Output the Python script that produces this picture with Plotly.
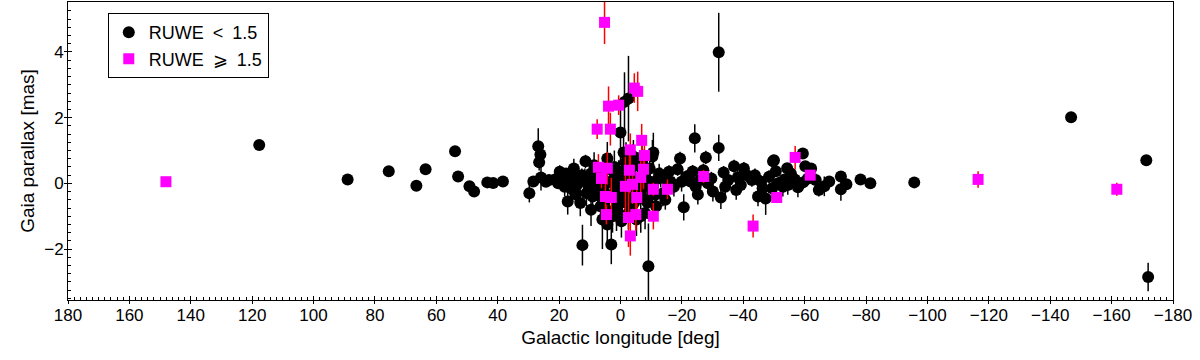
import plotly.graph_objects as go

# ---------------------------------------------------------------------------
# Data
# ---------------------------------------------------------------------------

# RUWE < 1.5 : galactic longitude [deg], parallax [mas], parallax error [mas]
good_lon = [
    117.7, 88.9, 75.5, 66.5, 63.5, 53.9, 52.9, 49.2, 47.7, 43.4, 41.5, 38.3,
    29.7, 28.4, 26.8, 26.1, 26.5, 25.9, 24.3, 23.3, 21.3, 20.3, 18.7, 17.7,
    16.7, 15.7, 14.7, 13.7, 12.6, 11.4, 12.4, 10.6, 9.6, 9.1, 8.1, 7.6,
    6.5, 5.9, 5.5, 5.0, 4.3, 4.3, 3.3, 3.0, 2.6, 2.5, 1.5, 0.9, 0.4, 0.0,
    0.0, -1.3, -2.6, -1.0, -1.6, -2.1, -2.6, -3.1, -3.6, -4.2, -4.6, -5.2,
    -5.7, -6.6, -6.7, -7.7, -8.2, -8.8, -9.1, -9.7, -10.4, -10.7, -11.3,
    -12.3, -13.1, -13.8, -15.3, -16.3, -18.6, -19.4, -20.6, -21.4, -22.8,
    -23.5, -24.2, -25.2, -26.0, -27.8, -28.5, -29.6, -32.0, -32.7, -33.6,
    -35.1, -37.0, -38.2, -39.2, -41.2, -42.8, -44.8, -45.8, -47.3, -48.4,
    -49.7, -51.4, -52.9, -55.5, -62.1, -63.6, -64.6,
    16.2, 14.2, 11.6, 10.1, 7.1, 4.5, 2.0, 1.3, -0.6, -1.1, -3.1, -4.1, -6.2,
    -7.2, -8.7,
    19.8, 18.2, 17.2, 15.2, 13.1, 11.1, 9.6, 8.6, 7.4, 6.3, 5.3, 3.7, 2.3,
    0.6, -0.3, -1.8, -2.8, -4.4, -5.5, -7.0, -8.0, -9.5, -11.6, -12.6, -14.6,
    -15.8, -17.4, -19.9, -24.5, -27.0, -30.1, -34.1, -37.7, -40.2, -43.8,
    -46.3, -49.4, -54.5, -61.1,
    -32.0, -146.8, -171.3, -171.9, -95.7, -81.4, -78.2, -73.6, -71.8, -71.8,
    -68.0, -66.4, -59.4, -60.2, -54.3, -50.0, -50.6, -53.4, -56.8, -57.8,
    -59.5,
]
good_plx = [
    1.17, 0.12, 0.37, -0.07, 0.43, 0.98, 0.21, -0.09, -0.25, 0.03, 0.01, 0.06,
    -0.30, 0.06, 1.13, 0.88, 0.64, 0.18, 0.05, 0.10, 0.12, 0.00, 0.27, 0.30,
    0.05, 0.20, -0.33, 0.10, 0.25, 0.67, -1.88, -0.05, 0.30, -0.40, 0.10, -0.10,
    -0.70, -1.10, 0.45, -0.30, 0.76, -1.25, 0.43, -1.86, -1.00, 0.10, -0.20,
    -0.58, 0.30, 1.55, -0.27, 2.48, 2.58, 0.94, 0.10, -0.60, -0.90, 0.40,
    -0.30, 0.82, 0.15, -1.10, 0.55, -1.00, -0.20, 0.25, -0.50, -0.58, -2.52,
    0.05, 0.82, 0.94, -0.35, 0.15, 0.18, -0.30, 0.10, 0.05, 0.43, 0.76, -0.73,
    0.20, 0.06, 0.36, 1.37, -0.34, 0.10, 0.79, 0.00, 0.15, 1.08, -0.43, 0.33,
    0.10, 0.52, 0.18, -0.05, 0.25, 0.10, -0.40, 0.05, -0.46, 0.20, 0.67, 0.00,
    -0.10, 0.30, 0.45, 0.10, -0.20,
    -0.15, -0.05, 0.15, -0.15, 0.35, 0.00, 0.50, -0.85, -0.45, 0.40, -0.15,
    0.60, 0.15, 0.40, 0.00,
    0.35, -0.10, -0.55, 0.45, -0.60, -0.30, -0.80, 0.55, -0.35, 0.25, -0.55,
    -0.85, -0.40, 0.10, -1.15, 0.65, -0.35, -0.60, -0.10, 0.65, -0.90, 0.45,
    -0.70, 0.30, -0.50, 0.35, -0.10, 0.05, -0.10, 0.40, -0.25, -0.10, -0.20,
    0.45, 0.25, -0.15, -0.15, -0.05, 0.15,
    3.99, 2.01, 0.70, -2.85, 0.03, 0.00, 0.12, -0.03, 0.21, -0.18, 0.06,
    -0.09, 0.91, 0.52, 0.46, 0.70, 0.37, 0.12, 0.12, -0.12, 0.03,
]
good_err = [
    0.05, 0.05, 0.05, 0.05, 0.05, 0.08, 0.05, 0.05, 0.05, 0.05, 0.05, 0.05,
    0.28, 0.10, 0.55, 0.20, 0.25, 0.40, 0.10, 0.10, 0.15, 0.15, 0.20, 0.10,
    0.20, 0.20, 0.25, 0.30, 0.20, 0.20, 0.62, 0.30, 0.30, 0.30, 0.35, 0.40,
    0.40, 0.90, 0.40, 0.40, 0.50, 0.60, 0.50, 0.60, 0.50, 0.30, 0.40, 0.50,
    0.40, 1.00, 0.50, 0.90, 1.30, 0.60, 0.50, 0.50, 0.50, 0.50, 0.60, 0.50,
    0.40, 0.50, 0.40, 0.50, 0.40, 0.50, 0.40, 0.50, 1.30, 0.40, 0.50, 0.60,
    0.30, 0.30, 0.30, 0.40, 0.20, 0.20, 0.20, 0.20, 0.40, 0.20, 0.20, 0.20,
    0.43, 0.30, 0.20, 0.20, 0.30, 0.20, 0.40, 0.35, 0.20, 0.20, 0.20, 0.20,
    0.20, 0.20, 0.20, 0.30, 0.20, 0.50, 0.20, 0.20, 0.20, 0.30, 0.20, 0.15,
    0.20, 0.20,
    0.30, 0.20, 0.30, 0.30, 0.30, 0.50, 0.50, 0.60, 0.70, 0.60, 0.80, 0.60,
    0.50, 0.50, 0.40,
    0.20, 0.30, 0.40, 0.30, 0.40, 0.40, 0.50, 0.40, 0.50, 0.40, 0.60, 0.50,
    0.50, 0.60, 0.50, 0.60, 0.60, 0.50, 0.50, 0.50, 0.50, 0.40, 0.40, 0.30,
    0.30, 0.20, 0.30, 0.30, 0.30, 0.20, 0.30, 0.30, 0.30, 0.20, 0.20, 0.20,
    0.30, 0.30, 0.20,
    1.20, 0.05, 0.05, 0.43, 0.05, 0.05, 0.05, 0.10, 0.10, 0.35, 0.10, 0.30,
    0.10, 0.10, 0.10, 0.10, 0.10, 0.10, 0.10, 0.30, 0.20,
]

# RUWE >= 1.5
bad_lon = [
    148.1, 5.2, 3.9, 0.6, -4.5, -5.6, 7.6, 3.3, -6.9, -3.2, -7.8, 7.2, 4.3,
    -2.9, -7.5, 6.2, -6.6, -1.6, -3.9, -10.7, -15.3, 4.9, 3.0, -5.3, 4.6,
    -2.6, -5.0, -10.7, -3.2, -27.1, -43.2, -50.9, -56.9, -61.8, -116.5, -161.7,
]
bad_plx = [
    0.05, 4.90, 2.35, 2.38, 2.90, 2.80, 1.65, 1.65, 1.31, 1.02, 0.85, 0.49,
    0.46, 0.40, 0.43, 0.15, 0.18, -0.09, -0.03, -0.18, -0.18, -0.40, -0.43,
    -0.43, -0.95, -1.04, -0.95, -1.00, -1.60, 0.21, -1.30, -0.43, 0.79, 0.25,
    0.12, -0.18,
]
bad_err = [
    0.10, 0.66, 0.60, 0.30, 0.45, 0.60, 0.30, 0.50, 0.50, 0.50, 0.60, 0.40,
    0.50, 0.70, 0.60, 0.30, 0.50, 0.90, 0.60, 0.20, 0.30, 0.60, 0.60, 0.50,
    0.30, 0.90, 0.50, 0.40, 0.60, 0.20, 0.35, 0.10, 0.35, 0.05, 0.25, 0.20,
]

FONT = "Liberation Sans, Arial, sans-serif"
TITLE_FONT = dict(family=FONT, size=19, color="black")

fig = go.Figure()

fig.add_trace(go.Scatter(
    name="RUWE\u2002<\u20021.5",
    x=good_lon, y=good_plx,
    mode="markers",
    marker=dict(symbol="circle", size=12, color="black", line=dict(width=0)),
    error_y=dict(type="data", array=good_err, color="black", thickness=1.5, width=0),
))

fig.add_trace(go.Scatter(
    name="RUWE\u2002\u2a7e\u20021.5",
    x=bad_lon, y=bad_plx,
    mode="markers",
    marker=dict(symbol="square", size=11, color="#ff00ff", line=dict(width=0)),
    error_y=dict(type="data", array=bad_err, color="red", thickness=1.5, width=0),
))

# empty trace carrying the overlay axes (outer stubs of the major ticks)
fig.add_trace(go.Scatter(x=[], y=[], xaxis="x2", yaxis="y2", showlegend=False))

X_RANGE = [180, -180]
Y_RANGE = [-3.55, 5.52]

fig.update_layout(
    width=1200, height=360,
    font=dict(family=FONT, size=17, color="black"),
    paper_bgcolor="white", plot_bgcolor="white",
    margin=dict(l=68, r=27, t=2, b=60, autoexpand=False),
    showlegend=True,
    legend=dict(
        x=0.036, y=0.963, xanchor="left", yanchor="top",
        bordercolor="black", borderwidth=1, bgcolor="white",
        font=dict(size=18), tracegroupgap=0, itemwidth=30,
    ),
    xaxis=dict(
        range=X_RANGE, tick0=0, dtick=20, automargin=False,
        ticklabeloverflow="allow",
        ticks="inside", ticklen=4, tickwidth=1, tickcolor="black",
        minor=dict(dtick=2, ticks="inside", ticklen=3, tickcolor="black"),
        showline=True, linecolor="black", linewidth=1, mirror=True,
        showgrid=False, zeroline=False,
        title=dict(text="Galactic longitude [deg]", standoff=6, font=TITLE_FONT),
    ),
    yaxis=dict(
        range=Y_RANGE, tick0=0, dtick=2, automargin=False,
        ticks="inside", ticklen=4, tickwidth=1, tickcolor="black",
        minor=dict(dtick=0.25, ticks="inside", ticklen=3, tickcolor="black"),
        showline=True, linecolor="black", linewidth=1, mirror=True,
        showgrid=False, zeroline=False,
        title=dict(text="Gaia parallax [mas]", standoff=4, font=TITLE_FONT),
    ),
    xaxis2=dict(
        range=X_RANGE, overlaying="x", anchor="y2", side="bottom", automargin=False,
        tick0=0, dtick=20, ticks="outside", ticklen=3, tickcolor="black",
        showticklabels=False, showline=False, showgrid=False, zeroline=False,
    ),
    yaxis2=dict(
        range=Y_RANGE, overlaying="y", anchor="x2", side="left", automargin=False,
        tick0=0, dtick=2, ticks="outside", ticklen=3, tickcolor="black",
        showticklabels=False, showline=False, showgrid=False, zeroline=False,
    ),
)

# drop the browser's default 8px body margin so the figure sits at the page corner
fig.write_html(
    "out.html",
    config={"displayModeBar": False},
    post_script="document.body.style.margin = '0';",
)
